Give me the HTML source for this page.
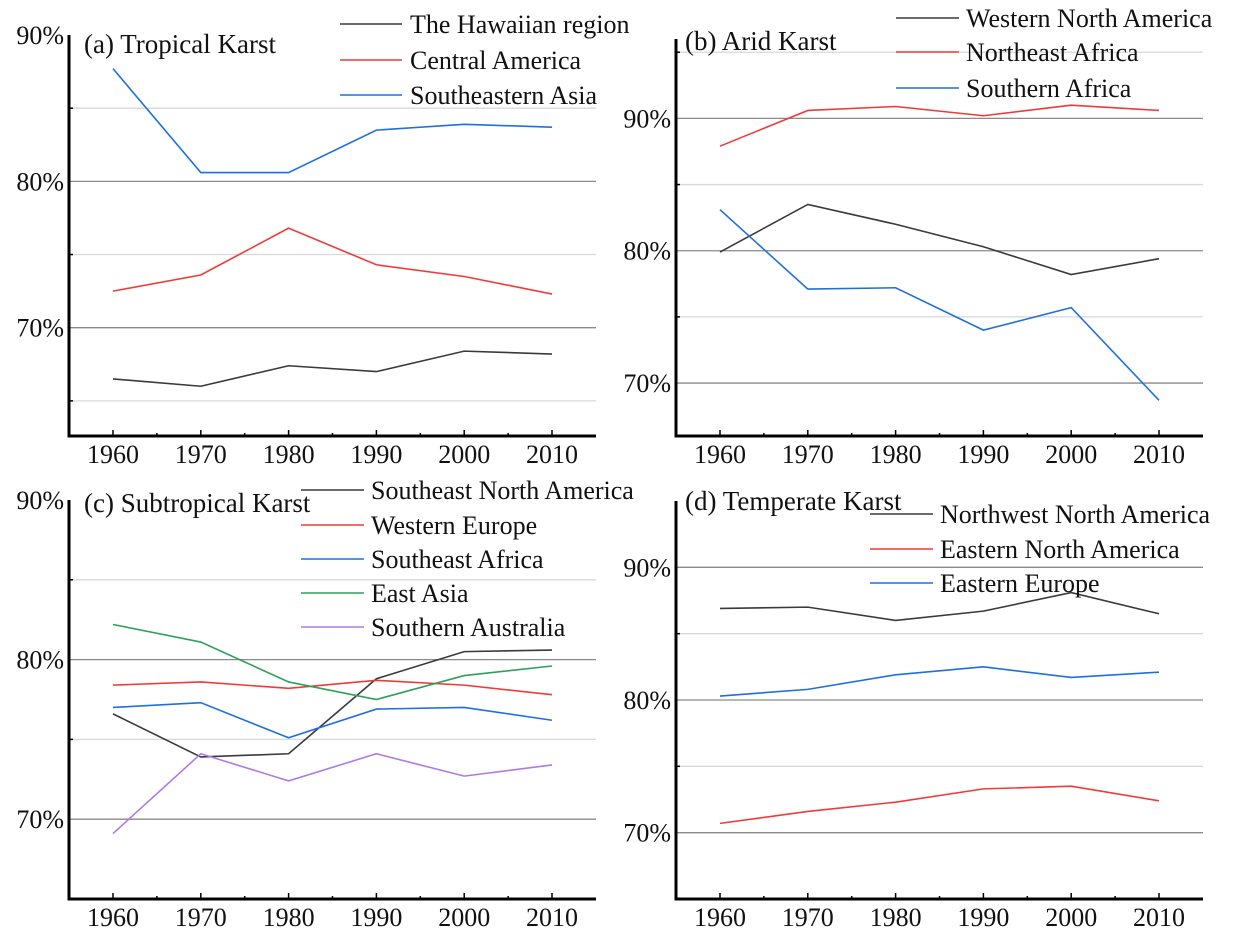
<!DOCTYPE html>
<html><head><meta charset="utf-8"><style>
html,body{margin:0;padding:0;background:#fff}
svg{display:block;font-family:"Liberation Serif",serif}
</style></head><body>
<svg id="chart" width="1244" height="938" viewBox="0 0 1244 938"></svg>
<script>
const years = [1960,1970,1980,1990,2000,2010];
const xTickLabels = ["1960","1970","1980","1990","2000","2010"];
const yTickLabels = ["70%","80%","90%"];
const yTickValues = [70,80,90];

const aNames = ["The Hawaiian region","Central America","Southeastern Asia"];
const aHawaii = [66.5,66.0,67.4,67.0,68.4,68.2];
const aCentral = [72.5,73.6,76.8,74.3,73.5,72.3];
const aSEAsia = [87.7,80.6,80.6,83.5,83.9,83.7];

const bNames = ["Western North America","Northeast Africa","Southern Africa"];
const bWNA = [79.9,83.5,82.0,80.3,78.2,79.4];
const bNEAfrica = [87.9,90.6,90.9,90.2,91.0,90.6];
const bSAfrica = [83.1,77.1,77.2,74.0,75.7,68.7];

const cNames = ["Southeast North America","Western Europe","Southeast Africa","East Asia","Southern Australia"];
const cSENA = [76.6,73.9,74.1,78.8,80.5,80.6];
const cWEurope = [78.4,78.6,78.2,78.7,78.4,77.8];
const cSEAfrica = [77.0,77.3,75.1,76.9,77.0,76.2];
const cEAsia = [82.2,81.1,78.6,77.5,79.0,79.6];
const cSAustralia = [69.1,74.1,72.4,74.1,72.7,73.4];

const dNames = ["Northwest North America","Eastern North America","Eastern Europe"];
const dNWNA = [86.9,87.0,86.0,86.7,88.1,86.5];
const dENA = [70.7,71.6,72.3,73.3,73.5,72.4];
const dEEurope = [80.3,80.8,81.9,82.5,81.7,82.1];

const BLACK="#3a3a3a",RED="#f03a3a",BLUE="#1f6fe0",GREEN="#2ea05a",PURPLE="#b07ae6";
const NS="http://www.w3.org/2000/svg";
const svg=document.getElementById("chart");
function mk(tag,attrs,parent){const e=document.createElementNS(NS,tag);for(const k in attrs)e.setAttribute(k,attrs[k]);(parent||svg).appendChild(e);return e;}

const panels=[
 {id:"a",title:"(a) Tropical Karst",x0:69,x1:596,yBot:436,yTop:35,vMin:62.6,vMax:90,tx:84,ty:53,
  series:[aHawaii,aCentral,aSEAsia],names:aNames,colors:[BLACK,RED,BLUE],
  lg:{x1:340,x2:402,tx:410,y:[24,60,95]},minors:[65,75,85]},
 {id:"b",title:"(b) Arid Karst",x0:676,x1:1203,yBot:436,yTop:39,vMin:66.0,vMax:96,tx:685,ty:50,
  series:[bWNA,bNEAfrica,bSAfrica],names:bNames,colors:[BLACK,RED,BLUE],
  lg:{x1:896,x2:959,tx:966,y:[18,52,88]},minors:[75,85,95]},
 {id:"c",title:"(c) Subtropical Karst",x0:69,x1:596,yBot:899,yTop:500,vMin:65.0,vMax:90,tx:84,ty:512,
  series:[cSENA,cWEurope,cSEAfrica,cEAsia,cSAustralia],names:cNames,colors:[BLACK,RED,BLUE,GREEN,PURPLE],
  lg:{x1:301,x2:364,tx:371,y:[490,525,559,593,627]},minors:[75,85]},
 {id:"d",title:"(d) Temperate Karst",x0:676,x1:1203,yBot:899,yTop:501,vMin:65.0,vMax:95,tx:685,ty:510,
  series:[dNWNA,dENA,dEEurope],names:dNames,colors:[BLACK,RED,BLUE],
  lg:{x1:870,x2:933,tx:940,y:[514,549,583]},minors:[75,85]}
];

panels.forEach(p=>{
  const g=mk("g",{});
  
  
  const xs=v=>p.x0+44+(v-1960)/50*439;
  const ys=v=>p.yBot-(v-p.vMin)/(p.vMax-p.vMin)*(p.yBot-p.yTop);
  p.minors.forEach(v=>{
    const l=mk("line",{x1:p.x0,x2:p.x1,y1:ys(v),y2:ys(v),stroke:"#d8d8d8","stroke-width":1.3},g);
    
    
    mk("line",{x1:p.x0,x2:p.x0+4,y1:ys(v),y2:ys(v),stroke:"#000","stroke-width":1.5},g);
  });
  yTickValues.forEach((v,i)=>{
    if(v<p.vMax){
      const l=mk("line",{x1:p.x0,x2:p.x1,y1:ys(v),y2:ys(v),stroke:"#8a8a8a","stroke-width":1.3},g);
      
      
    }
    const t=mk("text",{x:p.x0-5,y:ys(v)+9,"text-anchor":"end","font-size":26,fill:"#111"},g);
    t.textContent=yTickLabels[i];
    
    
  });
  years.forEach((yr,i)=>{
    const x=xs(yr);
    mk("line",{x1:x,x2:x,y1:p.yBot,y2:p.yBot-6,stroke:"#000","stroke-width":1.5},g);
    if(i<years.length-1) mk("line",{x1:x+43.9,x2:x+43.9,y1:p.yBot,y2:p.yBot-3,stroke:"#000","stroke-width":1.5},g);
    const t=mk("text",{x:x,y:p.yBot+27,"text-anchor":"middle","font-size":26,fill:"#111"},g);
    t.textContent=xTickLabels[i];
    
    
  });
  const ax=mk("path",{d:`M${p.x0},${p.yTop} V${p.yBot} H${p.x1}`,fill:"none",stroke:"#000","stroke-width":3},g);
  
  
  p.series.forEach((s,si)=>{
    const pl=mk("polyline",{points:s.map((v,i)=>xs(years[i])+","+ys(v)).join(" "),fill:"none",stroke:p.colors[si],"stroke-width":1.6},g);
    
    
  });
  const tt=mk("text",{x:p.tx,y:p.ty,"font-size":27,fill:"#111"},g);
  tt.textContent=p.title;
  
  
  p.names.forEach((n,i)=>{
    const le=mk("g",{},g);
    
    
    mk("line",{x1:p.lg.x1,x2:p.lg.x2,y1:p.lg.y[i],y2:p.lg.y[i],stroke:p.colors[i],"stroke-width":1.6},le);
    const t=mk("text",{x:p.lg.tx,y:p.lg.y[i]+9,"font-size":26,fill:"#111"},le);
    t.textContent=n;
  });
});
</script>
</body></html>
